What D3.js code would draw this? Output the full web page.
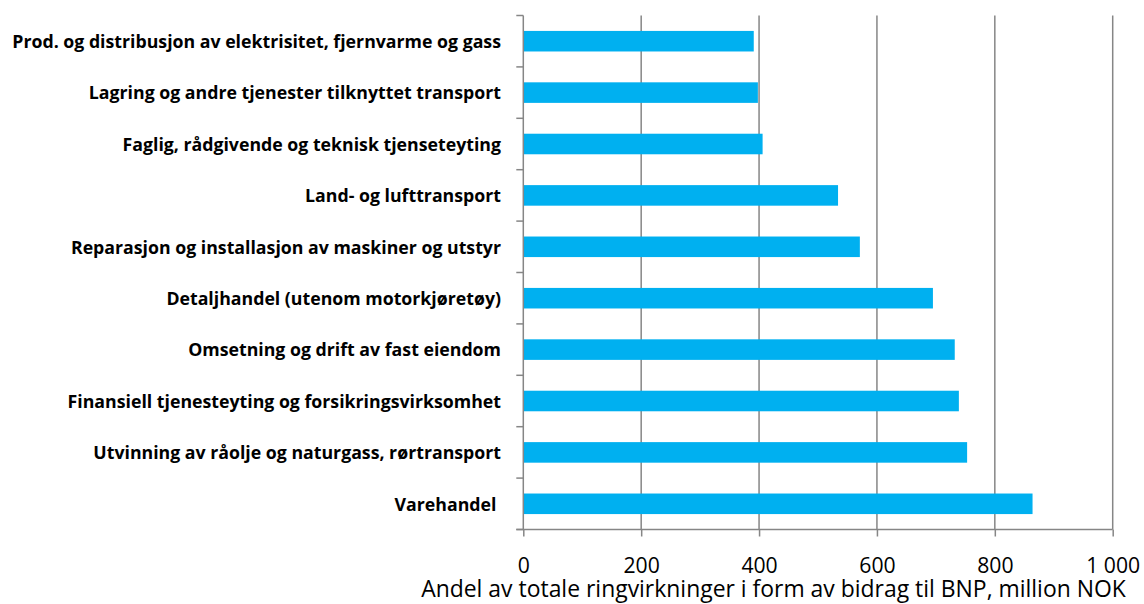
<!DOCTYPE html>
<html>
<head>
<meta charset="utf-8">
<script src="https://cdn.jsdelivr.net/npm/d3@7"></script>
<style>
  body { margin: 0; background: #fff; }
  svg { display: block; }
  text { font-family: "Open Sans", "Noto Sans", sans-serif; fill: #000; }
</style>
</head>
<body>
<div id="chart"></div>
<script>
const categories = [
    "Prod. og distribusjon av elektrisitet, fjernvarme og gass",
    "Lagring og andre tjenester tilknyttet transport",
    "Faglig, rådgivende og teknisk tjenseteyting",
    "Land- og lufttransport",
    "Reparasjon og installasjon av maskiner og utstyr",
    "Detaljhandel (utenom motorkjøretøy)",
    "Omsetning og drift av fast eiendom",
    "Finansiell tjenesteyting og forsikringsvirksomhet",
    "Utvinning av råolje og naturgass, rørtransport",
    "Varehandel "
];
const values = [391, 398, 406, 534, 571, 695, 732, 739, 753, 864];
const xTicks = [0, 200, 400, 600, 800, 1000];
const xTitle = "Andel av totale ringvirkninger i form av bidrag til BNP, million NOK";

const width = 1144;
const height = 604;
const margin = { top: 15.5, right: 31.3, bottom: 74.5, left: 523.3 };
const gridColor = "#868686";
const barColor = "#00B0F0";

const svg = d3.select("#chart")
    .append("svg")
    .attr("width", width)
    .attr("height", height);

// scale a text selection's font so its widest item spans `target` px
function fitWidth(sel, base, target) {
    sel.style("font-size", base + "px");
    const widest = d3.max(sel.nodes(), n => n.getComputedTextLength());
    sel.style("font-size", (base * target / widest).toFixed(2) + "px");
}

const x = d3.scaleLinear()
    .domain([0, 1000])
    .range([margin.left, width - margin.right]);

const y = d3.scaleBand()
    .domain(categories)
    .range([margin.top, height - margin.bottom])
    .paddingInner(0.6)
    .paddingOuter(0.3);

const fmt = d3.formatLocale({ decimal: ",", thousands: " ", grouping: [3], currency: ["", " kr"] }).format(",d");

// gridlines
svg.append("g")
    .selectAll("line")
    .data(xTicks.filter(d => d > 0))
    .join("line")
    .attr("x1", d => x(d))
    .attr("x2", d => x(d))
    .attr("y1", y.range()[0])
    .attr("y2", y.range()[1])
    .attr("stroke", gridColor)
    .attr("stroke-width", 1.5);

// bars
svg.append("g")
    .selectAll("rect")
    .data(categories)
    .join("rect")
    .attr("x", x(0))
    .attr("y", d => y(d))
    .attr("width", (d, i) => x(values[i]) - x(0))
    .attr("height", y.bandwidth())
    .attr("fill", barColor);

// y axis line + ticks on category boundaries
const half = (y.step() - y.bandwidth()) / 2;
const bounds = categories.map(c => y(c) - half).concat([y.range()[1]]);
const yAxis = svg.append("g");
yAxis.append("line")
    .attr("x1", x(0)).attr("x2", x(0))
    .attr("y1", y.range()[0]).attr("y2", y.range()[1])
    .attr("stroke", gridColor).attr("stroke-width", 1.5);
yAxis.selectAll(".tick")
    .data(bounds)
    .join("line")
    .attr("class", "tick")
    .attr("x1", x(0) - 7).attr("x2", x(0))
    .attr("y1", d => d).attr("y2", d => d)
    .attr("stroke", gridColor).attr("stroke-width", 1.5);

const catLabels = yAxis.selectAll("text")
    .data(categories)
    .join("text")
    .attr("x", 501)
    .attr("y", d => y(d) + y.bandwidth() / 2)
    .attr("dy", "0.38em")
    .attr("text-anchor", "end")
    .style("white-space", "pre")
    .style("font-weight", 700)
    .text(d => d);
fitWidth(catLabels, 16, 489);

// x axis
const xAxis = d3.axisBottom(x)
    .tickValues(xTicks)
    .tickSize(7)
    .tickPadding(10)
    .tickFormat(fmt);

const xg = svg.append("g")
    .attr("transform", `translate(0,${y.range()[1]})`)
    .call(xAxis);

xg.select(".domain")
    .attr("d", `M${x(0) - 7},0H${x(1000)}`)
    .attr("stroke", gridColor)
    .attr("stroke-width", 1.5);
xg.selectAll(".tick line")
    .attr("stroke", gridColor)
    .attr("stroke-width", 1.5);
const tickText = xg.selectAll(".tick text")
    .attr("dy", null)
    .attr("y", 43)
    .attr("fill", "#000")
    .style("font-family", null);
fitWidth(tickText, 20, 54);

const title = svg.append("text")
    .attr("x", 773.5)
    .attr("y", 597)
    .attr("text-anchor", "middle")
    .text(xTitle);
fitWidth(title, 20, 705);
</script>
</body>
</html>
